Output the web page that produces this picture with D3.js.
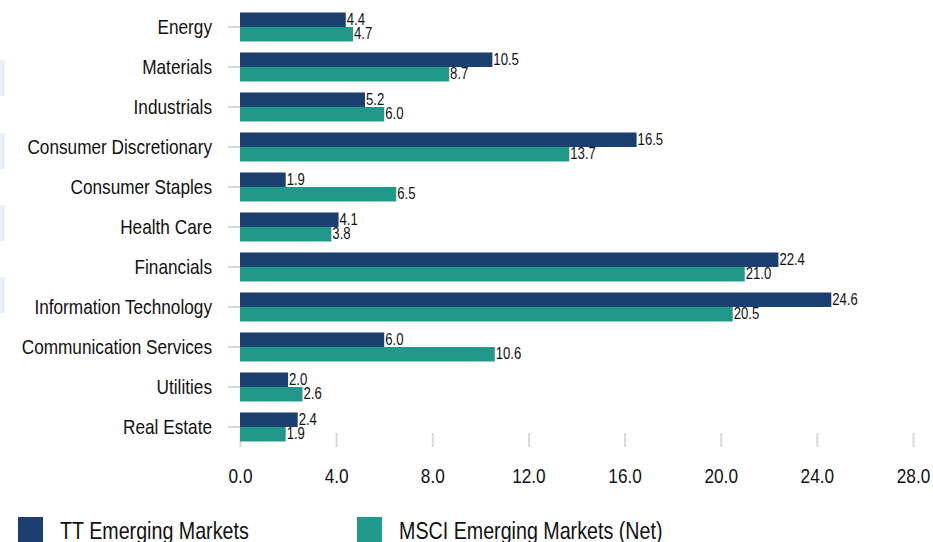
<!DOCTYPE html>
<html>
<head>
<meta charset="utf-8">
<script src="https://cdn.jsdelivr.net/npm/d3@7"></script>
<style>
  body { margin: 0; background: #fff; }
  svg { display: block; font-family: "Liberation Sans", Arial, sans-serif; }
</style>
</head>
<body>
<div id="chart"></div>
<script>
// data
var sectors = ["Energy", "Materials", "Industrials", "Consumer Discretionary", "Consumer Staples",
    "Health Care", "Financials", "Information Technology", "Communication Services", "Utilities", "Real Estate"]
var ttValues = [4.4, 10.5, 5.2, 16.5, 1.9, 4.1, 22.4, 24.6, 6.0, 2.0, 2.4]
var msciValues = [4.7, 8.7, 6.0, 13.7, 6.5, 3.8, 21.0, 20.5, 10.6, 2.6, 1.9]
var seriesNames = ["TT Emerging Markets", "MSCI Emerging Markets (Net)"]
var xTicks = [0, 4, 8, 12, 16, 20, 24, 28]

var colors = ["#1b3f6f", "#21998a"]
var width = 933, height = 542
var narrow = 0.82 // no narrow font installed, so squeeze the text horizontally

// squeeze a text selection around its own x position
function condense(sel) {
    sel.each(function () {
        var t = d3.select(this)
        var x0 = +t.attr("x") || 0
        t.attr("x", x0 / narrow).attr("transform", "scale(" + narrow + ",1)")
    })
}

var svg = d3.select("#chart")
    .append("svg")
    .attr("width", width)
    .attr("height", height)

// faint panels at the left edge
var panels = [60, 133, 205, 277]
svg.selectAll(".panel")
    .data(panels)
    .enter()
    .append("rect")
    .attr("x", 0)
    .attr("y", d => d)
    .attr("width", 5)
    .attr("height", 36)
    .attr("fill", "#e8f1f5")

var x = d3.scaleLinear().domain([0, 28]).range([240, 913])
var y = d3.scaleBand()
    .domain(sectors)
    .range([7, 447])
    .paddingInner(0.275)
    .paddingOuter(0.1375)
var ySub = d3.scaleBand().domain([0, 1]).range([0, y.bandwidth()])

var rows = sectors.map((s, i) => ({ sector: s, values: [ttValues[i], msciValues[i]] }))

// y axis (tick marks + sector names)
var yAxis = svg.append("g")
    .attr("transform", "translate(240,0)")
    .call(d3.axisLeft(y).tickSize(12).tickPadding(16))
yAxis.select(".domain").remove()
yAxis.selectAll("line").attr("stroke", "#d9d9d9").attr("stroke-width", 2)
yAxis.selectAll("text")
    .attr("fill", "#111")
    .style("font-size", "21px")
    .attr("dy", "0.34em")
    .call(condense)

// x axis
var xAxis = svg.append("g")
    .attr("transform", "translate(0,433)")
    .call(d3.axisBottom(x).tickValues(xTicks).tickSize(14).tickFormat(d3.format(".1f")))
xAxis.select(".domain").remove()
xAxis.selectAll("line").attr("stroke", "#d9d9d9").attr("stroke-width", 2)
xAxis.selectAll("text")
    .attr("fill", "#111")
    .attr("y", 50)
    .attr("dy", 0)
    .style("font-size", "21px")
    .call(condense)

// bars
var groups = svg.append("g")
    .selectAll("g")
    .data(rows)
    .enter()
    .append("g")
    .attr("transform", d => "translate(0," + y(d.sector) + ")")

groups.selectAll("rect")
    .data(d => d.values)
    .enter()
    .append("rect")
    .attr("x", x(0))
    .attr("y", (d, i) => ySub(i))
    .attr("width", d => x(d) - x(0))
    .attr("height", ySub.bandwidth())
    .attr("fill", (d, i) => colors[i])

groups.selectAll("text")
    .data(d => d.values)
    .enter()
    .append("text")
    .attr("x", d => x(d) + 1)
    .attr("y", (d, i) => ySub(i) + ySub.bandwidth() / 2 + 5)
    .text(d => d.toFixed(1))
    .attr("fill", "#111")
    .style("font-size", "16px")
    .call(condense)

// legend
var legendX = [18, 357]
var legend = svg.selectAll(".legend")
    .data(seriesNames)
    .enter()
    .append("g")
    .attr("transform", (d, i) => "translate(" + legendX[i] + ",517)")
legend.append("rect")
    .attr("width", 25)
    .attr("height", 26)
    .attr("fill", (d, i) => colors[i])
legend.append("text")
    .attr("x", 42)
    .attr("y", 22)
    .text(d => d)
    .attr("fill", "#111")
    .style("font-size", "24px")
    .call(condense)
</script>
</body>
</html>
